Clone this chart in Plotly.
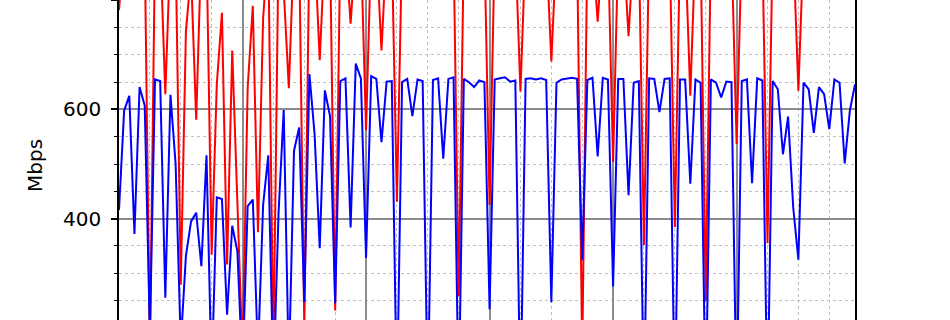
import plotly.graph_objects as go

# hourly samples over ~6 days
hours = list(range(144))

blue_mbps = [
    416, 598, 625, 372, 641, 607, 190, 655, 652, 255, 627, 500,
    170, 332, 395, 411, 313, 516, 110, 439, 436, 224, 387, 340,
    120, 423, 435, 150, 425, 516, 100, 410, 599, 120, 524, 567,
    247, 665, 555, 346, 635, 588, 245, 652, 657, 384, 684, 657,
    328, 661, 656, 540, 651, 652, 60, 650, 656, 588, 655, 652,
    60, 654, 657, 510, 656, 659, 60, 656, 650, 641, 653, 650,
    234, 655, 657, 659, 651, 653, 50, 656, 657, 655, 657, 654,
    247, 649, 655, 657, 658, 656, 325, 654, 658, 514, 658, 655,
    276, 656, 656, 443, 649, 652, 50, 657, 656, 595, 656, 657,
    50, 655, 655, 464, 655, 649, 50, 655, 649, 622, 651, 650,
    50, 652, 655, 465, 657, 653, 50, 652, 637, 518, 587, 420,
    325, 649, 637, 557, 641, 628, 564, 655, 649, 501, 598, 646,
]

red_mbps = [
    782, 900, 905, 900, 898, 900, 150, 900, 902, 628, 900, 900,
    279, 743, 850, 581, 900, 900, 334, 646, 777, 316, 708, 430,
    150, 640, 790, 375, 767, 900, 150, 900, 820, 639, 900, 900,
    200, 900, 900, 690, 900, 900, 232, 900, 900, 757, 900, 900,
    562, 900, 900, 708, 900, 900, 431, 900, 900, 900, 900, 900,
    900, 900, 900, 900, 900, 900, 258, 900, 900, 900, 900, 900,
    425, 900, 900, 900, 900, 900, 633, 900, 900, 900, 900, 900,
    688, 900, 900, 900, 900, 900, 150, 900, 900, 761, 900, 900,
    504, 900, 900, 734, 900, 900, 352, 900, 900, 900, 900, 900,
    385, 900, 900, 625, 900, 900, 249, 900, 900, 900, 900, 900,
    537, 900, 900, 900, 900, 900, 355, 900, 900, 900, 900, 900,
    634, 900, 900, 900, 900, 900, 900, 900, 900, 900, 900, 900,
]

fig = go.Figure()
fig.add_trace(go.Scatter(x=hours, y=red_mbps, mode="lines",
                         line=dict(color="#ff0000", width=2), showlegend=False))
fig.add_trace(go.Scatter(x=hours, y=blue_mbps, mode="lines",
                         line=dict(color="#0000ff", width=2), showlegend=False))

major_grid = "#8c8c8c"
minor_grid = "#c0c0c0"

fig.update_layout(
    width=950, height=320,
    margin=dict(l=119, r=95, t=0, b=0),
    paper_bgcolor="white", plot_bgcolor="white",
    font=dict(family="DejaVu Sans", size=20, color="black"),
    xaxis=dict(
        range=[0, 143], tick0=0, dtick=24,
        showgrid=True, gridcolor=major_grid, gridwidth=1.5,
        showticklabels=False, ticks="", zeroline=False, showline=False,
        minor=dict(tick0=0, dtick=6, showgrid=True, gridcolor=minor_grid,
                   griddash="dot", gridwidth=1.2),
    ),
    yaxis=dict(
        range=[214.4, 800.5], tick0=0, dtick=200,
        ticks="outside", ticklen=6, tickwidth=1.5, tickcolor="black",
        showline=True, linecolor="black", linewidth=1.5, mirror=True,
        showgrid=True, gridcolor=major_grid, gridwidth=1.5, zeroline=False,
        tickfont=dict(family="DejaVu Sans", size=20, color="black"),
        ticklabelstandoff=6,
        minor=dict(tick0=0, dtick=50, ticks="outside", ticklen=3.5,
                   tickcolor="black", tickwidth=1, showgrid=True,
                   gridcolor=minor_grid, griddash="dot", gridwidth=1.2),
    ),
    annotations=[dict(text="Mbps", xref="paper", yref="paper",
                      x=(35 - 119) / 736, y=(320 - 166) / 320,
                      xanchor="center", yanchor="middle", textangle=-90,
                      showarrow=False,
                      font=dict(family="DejaVu Sans", size=20, color="black"))],
)

fig.write_html("out.html")
